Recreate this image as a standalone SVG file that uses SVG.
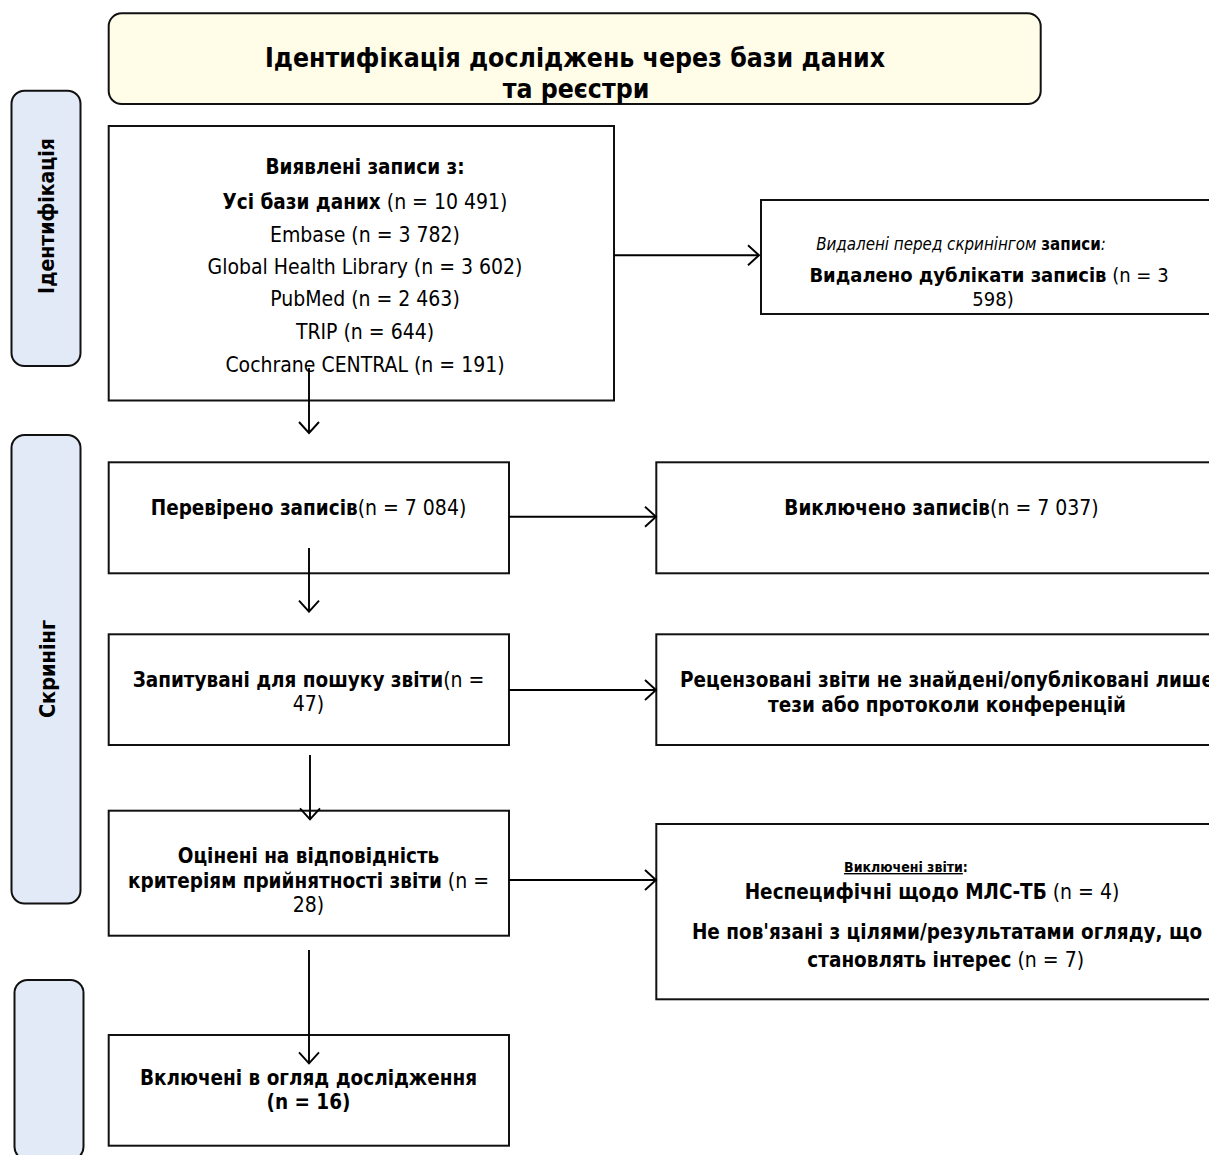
<svg xmlns="http://www.w3.org/2000/svg" width="1209" height="1155" viewBox="0 0 1209 1155">
<defs>
<style>
text{font-family:"DejaVu Sans Condensed","DejaVu Sans",sans-serif;fill:#000;text-anchor:middle}
.b{font-weight:bold;font-size:20.5px}
.r{font-weight:normal;font-size:21px}
.i{font-style:italic;font-weight:normal}
.box{fill:#fff;stroke:#111;stroke-width:2}
.lab{fill:#E3EAF7;stroke:#111;stroke-width:2}
.ttl{fill:#FFFCE8;stroke:#111;stroke-width:2}
.con{fill:none;stroke:#000;stroke-width:1.9}
</style>
<marker id="arr" viewBox="0 0 14 22" markerWidth="14" markerHeight="22" refX="12.5" refY="11" orient="auto" markerUnits="userSpaceOnUse">
<path d="M1.5,1 L12.5,11 L1.5,21" fill="none" stroke="#000" stroke-width="1.9"/>
</marker>
</defs>

<g id="title">
<rect class="ttl" x="108.7" y="13.3" width="932" height="90.7" rx="13"/>
<text style="font-weight:bold;font-size:26.4px" x="575" y="66.7">Ідентифікація досліджень через бази даних</text>
<text style="font-weight:bold;font-size:26.4px" x="576" y="97.5">та реєстри</text>
</g>

<g id="label-identification">
<rect class="lab" x="11.5" y="90.7" width="69" height="275.3" rx="13"/>
<text style="font-weight:bold;font-size:21px" x="53.5" y="216" transform="rotate(-90 53.5 216)">Ідентифікація</text>
</g>

<g id="label-screening">
<rect class="lab" x="11.5" y="435" width="69" height="468.5" rx="13"/>
<text style="font-weight:bold;font-size:21.5px" x="54.5" y="669" transform="rotate(-90 54.5 669)">Скринінг</text>
</g>

<g id="label-included">
<rect class="lab" x="14.5" y="980" width="69" height="180" rx="13"/>
</g>

<g id="records-identified">
<rect class="box" x="108.7" y="126" width="505.3" height="274.5"/>
<text x="365" y="174" class="b">Виявлені записи з:</text>
<text x="365" y="209"><tspan class="b">Усі бази даних</tspan><tspan class="r"> (n = 10 491)</tspan></text>
<text x="365" y="242" class="r">Embase (n = 3 782)</text>
<text x="365" y="274" class="r">Global Health Library (n = 3 602)</text>
<text x="365" y="306" class="r">PubMed (n = 2 463)</text>
<text x="365" y="338.5" class="r">TRIP (n = 644)</text>
<text x="365" y="371.5" class="r">Cochrane CENTRAL (n = 191)</text>
</g>

<g id="records-removed">
<rect class="box" x="761" y="200" width="460" height="114"/>
<text x="961" y="249.5" style="font-size:16.8px"><tspan class="i">Видалені перед скринінгом </tspan><tspan style="font-weight:bold">записи</tspan><tspan class="i">:</tspan></text>
<text x="989" y="282"><tspan style="font-weight:bold;font-size:20px">Видалено дублікати записів</tspan><tspan style="font-size:20px"> (n = 3</tspan></text>
<text x="993" y="306" style="font-size:20px">598)</text>
</g>

<g id="records-screened">
<rect class="box" x="108.7" y="462.3" width="400.3" height="111"/>
<text x="308.5" y="515"><tspan class="b">Перевірено записів</tspan><tspan class="r">(n = 7 084)</tspan></text>
</g>

<g id="records-excluded">
<rect class="box" x="656.3" y="462.3" width="570" height="111"/>
<text x="941.5" y="515"><tspan class="b">Виключено записів</tspan><tspan class="r">(n = 7 037)</tspan></text>
</g>

<g id="reports-sought">
<rect class="box" x="108.7" y="634.3" width="400.3" height="110.7"/>
<text x="308.5" y="686.7"><tspan class="b">Запитувані для пошуку звіти</tspan><tspan class="r">(n =</tspan></text>
<text x="308.5" y="710.5" class="r">47)</text>
</g>

<g id="reports-not-retrieved">
<rect class="box" x="656.3" y="634.3" width="570" height="110.7"/>
<text x="947" y="686.7" class="b">Рецензовані звіти не знайдені/опубліковані лише</text>
<text x="947" y="711.7" class="b">тези або протоколи конференцій</text>
</g>

<g id="reports-assessed">
<rect class="box" x="108.7" y="810.7" width="400.3" height="125"/>
<text x="308.5" y="863.3" class="b">Оцінені на відповідність</text>
<text x="308.5" y="888.3"><tspan class="b">критеріям прийнятності звіти</tspan><tspan class="r"> (n =</tspan></text>
<text x="308.5" y="912" class="r">28)</text>
</g>

<g id="reports-excluded">
<rect class="box" x="656.3" y="824" width="570" height="175.3"/>
<text x="906" y="872" style="font-weight:bold;font-size:14px"><tspan text-decoration="underline">Виключені звіти</tspan><tspan>:</tspan></text>
<text x="932" y="899"><tspan class="b">Неспецифічні щодо МЛС-ТБ</tspan><tspan class="r"> (n = 4)</tspan></text>
<text x="947" y="939" class="b">Не пов'язані з цілями/результатами огляду, що</text>
<text x="945.7" y="966.5"><tspan class="b">становлять інтерес</tspan><tspan class="r"> (n = 7)</tspan></text>
</g>

<g id="studies-included">
<rect class="box" x="108.7" y="1035" width="400.3" height="110.7"/>
<text x="308.5" y="1085" class="b">Включені в огляд дослідження</text>
<text x="308.5" y="1109.3" class="b">(n = 16)</text>
</g>

<g id="connectors">
<line class="con" x1="309" y1="368" x2="309" y2="433" marker-end="url(#arr)"/>
<line class="con" x1="614" y1="255.3" x2="759" y2="255.3" marker-end="url(#arr)"/>
<line class="con" x1="309" y1="548" x2="309" y2="611.7" marker-end="url(#arr)"/>
<line class="con" x1="509" y1="516.7" x2="656" y2="516.7" marker-end="url(#arr)"/>
<line class="con" x1="310" y1="755" x2="310" y2="819.3" marker-end="url(#arr)"/>
<line class="con" x1="509" y1="690" x2="656" y2="690" marker-end="url(#arr)"/>
<line class="con" x1="309" y1="950" x2="309" y2="1063.3" marker-end="url(#arr)"/>
<line class="con" x1="509" y1="880" x2="656" y2="880" marker-end="url(#arr)"/>
</g>
</svg>
